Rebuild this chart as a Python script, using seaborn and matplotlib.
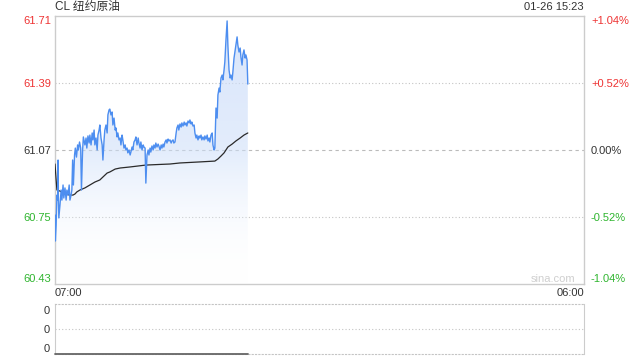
import numpy as np
import pandas as pd
import matplotlib
matplotlib.use("Agg")
import matplotlib.pyplot as plt
import matplotlib.colors as mcolors
import seaborn as sns

# ---- data (minutes after 07:00, price) ----
price_min = [0, 1, 3, 5, 7, 8, 9, 10, 13, 16, 18, 21, 23, 26, 29, 31, 34, 37, 39, 42, 44, 46, 48, 51, 53,
             56, 59, 61, 64, 67, 69, 72, 74, 78, 81, 83, 86, 89, 91, 94, 97, 99, 102, 104, 107, 110, 112,
             115, 117, 120, 123, 125, 128, 130, 133, 136, 138, 141, 143, 146, 149, 151, 154, 157, 159, 162,
             164, 167, 170, 172, 175, 177, 180, 183, 185, 188, 190, 193, 196, 198, 201, 203, 206, 209, 211,
             214, 217, 219, 222, 224, 227, 230, 232, 235, 237, 240, 243, 245, 248, 250, 253, 256, 258, 261,
             263, 266, 269, 271, 274, 277, 279, 282, 284, 287, 290, 292, 295, 297, 300, 303, 305, 308, 310,
             313, 316, 318, 321, 323, 326, 329, 331, 334, 337, 339, 342, 344, 347, 350, 352, 355, 357, 360,
             363, 365, 368, 370, 373, 376, 378, 381, 383, 386, 389, 391, 394, 397, 399, 402, 404, 407, 410,
             412, 415, 417, 420, 423, 425, 428, 430, 433, 436, 438, 441, 443, 446, 449, 451, 454, 457, 459,
             462, 464, 467, 470, 472, 475, 477, 480, 483, 485, 488, 490, 493, 496, 498, 501, 503]
price_val = [60.759, 60.635, 60.711, 60.854, 60.830, 61.021, 60.830, 60.745, 60.807, 60.878, 60.830, 60.902,
             60.840, 60.888, 60.830, 60.878, 60.854, 60.902, 60.830, 60.854, 60.878, 61.021, 60.902, 61.045,
             61.078, 61.035, 61.093, 61.069, 61.107, 61.078, 60.878, 61.069, 61.131, 61.093, 61.126, 61.078,
             61.136, 61.102, 61.140, 61.093, 61.150, 61.117, 61.164, 61.093, 61.126, 61.069, 61.140, 61.164,
             61.188, 61.126, 61.093, 61.021, 61.117, 61.164, 61.188, 61.150, 61.236, 61.260, 61.264, 61.236,
             61.250, 61.188, 61.221, 61.164, 61.174, 61.131, 61.150, 61.117, 61.126, 61.093, 61.140, 61.117,
             61.078, 61.093, 61.069, 61.078, 61.055, 61.069, 61.045, 61.059, 61.083, 61.069, 61.107, 61.117,
             61.131, 61.093, 61.126, 61.102, 61.078, 61.107, 61.069, 61.093, 61.083, 61.078, 60.911, 61.045,
             61.069, 61.045, 61.078, 61.059, 61.088, 61.069, 61.093, 61.078, 61.102, 61.083, 61.097, 61.088,
             61.069, 61.093, 61.078, 61.097, 61.083, 61.107, 61.117, 61.102, 61.121, 61.112, 61.117, 61.102,
             61.112, 61.117, 61.102, 61.107, 61.150, 61.174, 61.188, 61.164, 61.193, 61.178, 61.198, 61.183,
             61.202, 61.188, 61.198, 61.183, 61.207, 61.198, 61.212, 61.193, 61.202, 61.183, 61.188, 61.150,
             61.126, 61.140, 61.117, 61.136, 61.126, 61.140, 61.117, 61.131, 61.117, 61.136, 61.121, 61.140,
             61.112, 61.126, 61.107, 61.140, 61.150, 61.093, 61.069, 61.078, 61.269, 61.221, 61.331, 61.364,
             61.345, 61.412, 61.426, 61.403, 61.450, 61.488, 61.593, 61.684, 61.569, 61.450, 61.412, 61.426,
             61.403, 61.441, 61.507, 61.546, 61.569, 61.608, 61.569, 61.536, 61.555, 61.512, 61.474, 61.522,
             61.546, 61.507, 61.522, 61.498, 61.383]

avg_min = [0, 3, 5, 13, 26, 39, 47, 52, 57, 65, 78, 91, 104, 117, 125, 136, 143, 157, 170, 196, 237, 274,
           300, 326, 378, 417, 425, 433, 441, 446, 451, 462, 472, 483, 493, 503]
avg_val = [61.002, 60.926, 60.878, 60.873, 60.859, 60.854, 60.854, 60.859, 60.869, 60.878, 60.888, 60.902,
           60.916, 60.926, 60.940, 60.959, 60.964, 60.978, 60.983, 60.988, 60.997, 61.000, 61.002, 61.007,
           61.012, 61.016, 61.026, 61.040, 61.055, 61.069, 61.083, 61.097, 61.112, 61.126, 61.140, 61.150]

vol_min = [0, 503]
vol_val = [0, 0]

price_ticks = [60.43, 60.75, 61.07, 61.39, 61.71]
price_labels = ["60.43", "60.75", "61.07", "61.39", "61.71"]
pct_labels = ["-1.04%", "-0.52%", "0.00%", "+0.52%", "+1.04%"]
label_colors = ["#2fb52f", "#2fb52f", "#333333", "#ee3333", "#ee3333"]
x_ticks = [0, 1380]
x_labels = ["07:00", "06:00"]
title = "CL 纽约原油"
stamp = "01-26 15:23"

sns.set_theme(style="white")
plt.rcParams["font.family"] = ["Liberation Sans", "Noto Sans CJK SC", "DejaVu Sans"]

fig = plt.figure(figsize=(6.4, 3.6), dpi=100)
ax = fig.add_axes([55 / 640, 1 - 284 / 360, 529 / 640, 268.5 / 360])
axv = fig.add_axes([55 / 640, 1 - 354 / 360, 529 / 640, 50 / 360])

df_p = pd.DataFrame({"t": price_min, "v": price_val})
df_a = pd.DataFrame({"t": avg_min, "v": avg_val})

ymin, ymax = price_ticks[0], price_ticks[-1]
ax.set_xlim(0, 1380)
ax.set_ylim(ymin, ymax)

# gradient fill under the price line
grad = np.linspace(1, 0, 256).reshape(-1, 1)
cmap = mcolors.LinearSegmentedColormap.from_list(
    "g", [(1, 1, 1, 0.0), (0.80, 0.87, 0.98, 0.55), (0.80, 0.87, 0.98, 0.75)])
im = ax.imshow(grad[::-1], extent=[0, max(price_min), ymin, ymax], origin="lower",
               aspect="auto", cmap=cmap, vmin=0, vmax=1, zorder=1)
poly = ax.fill_between(price_min, price_val, ymin, facecolor="none", edgecolor="none")
im.set_clip_path(poly.get_paths()[0], transform=ax.transData)
ax.set_xlim(0, 1380)
ax.set_ylim(ymin, ymax)

# grid lines
ax.axhline(61.39, color="#c4c4c4", lw=0.8, ls=(0, (1, 2)), zorder=0)
ax.axhline(60.75, color="#c4c4c4", lw=0.8, ls=(0, (1, 2)), zorder=0)
ax.axhline(61.07, color="#bbbbbb", lw=0.8, ls=(0, (3, 3)), zorder=0)

sns.lineplot(data=df_a, x="t", y="v", ax=ax, color="#2a2a2a", lw=0.9, zorder=3)
sns.lineplot(data=df_p, x="t", y="v", ax=ax, color="#4d8ef0", lw=1.0, zorder=4)

ax.set_xlabel("")
ax.set_ylabel("")
for s in ax.spines.values():
    s.set_color("#cccccc")
    s.set_linewidth(1)

ax.set_yticks(price_ticks)
ax.set_yticklabels(price_labels, fontsize=8)
ax.tick_params(axis="y", length=0, pad=3)
for lbl, c in zip(ax.get_yticklabels(), label_colors):
    lbl.set_color(c)
ylbls = ax.get_yticklabels()
ylbls[0].set_va("bottom")
ylbls[-1].set_va("top")

ax.set_xticks(x_ticks)
ax.set_xticklabels(x_labels, fontsize=8, color="#333333")
ax.tick_params(axis="x", length=0, pad=3)
xl = ax.get_xticklabels()
xl[0].set_ha("left")
xl[1].set_ha("right")

ax2 = ax.twinx()
ax2.set_ylim(ymin, ymax)
ax2.set_yticks(price_ticks)
ax2.set_yticklabels(pct_labels, fontsize=8)
ax2.tick_params(axis="y", length=0, pad=5)
for lbl, c in zip(ax2.get_yticklabels(), label_colors):
    lbl.set_color(c)
r = ax2.get_yticklabels()
r[0].set_va("bottom")
r[-1].set_va("top")
for s in ax2.spines.values():
    s.set_visible(False)
ax2.grid(False)

fig.text(55 / 640, 1 - 7 / 360, title, fontsize=8.5, color="#333333", ha="left", va="center")
fig.text(584 / 640, 1 - 7 / 360, stamp, fontsize=8, color="#333333", ha="right", va="center")
fig.text(553 / 640, 1 - 279 / 360, "sina.com", fontsize=8, color="#cfcfcf", ha="center", va="center")

# volume panel
df_v = pd.DataFrame({"t": vol_min, "v": vol_val})
axv.set_xlim(0, 1380)
axv.set_ylim(0, 1)
axv.axhline(0.5, color="#c4c4c4", lw=0.8, ls=(0, (1, 2)))
sns.lineplot(data=df_v, x="t", y="v", ax=axv, color="#666666", lw=1.3, clip_on=False, zorder=5)
axv.set_xlabel("")
axv.set_ylabel("")
axv.set_xticks([])
axv.set_yticks([0.12, 0.5, 0.88])
axv.set_yticklabels(["0", "0", "0"], fontsize=8, color="#333333")
axv.tick_params(axis="y", length=0, pad=4)
axv.spines["left"].set_color("#cccccc")
axv.spines["right"].set_color("#cccccc")
axv.spines["top"].set_color("#c4c4c4")
axv.spines["top"].set_linestyle((0, (1, 2)))
axv.spines["bottom"].set_color("#c4c4c4")
axv.spines["bottom"].set_linestyle((0, (1, 2)))
for s in axv.spines.values():
    s.set_linewidth(0.8)

fig.savefig("out.png", dpi=100)
